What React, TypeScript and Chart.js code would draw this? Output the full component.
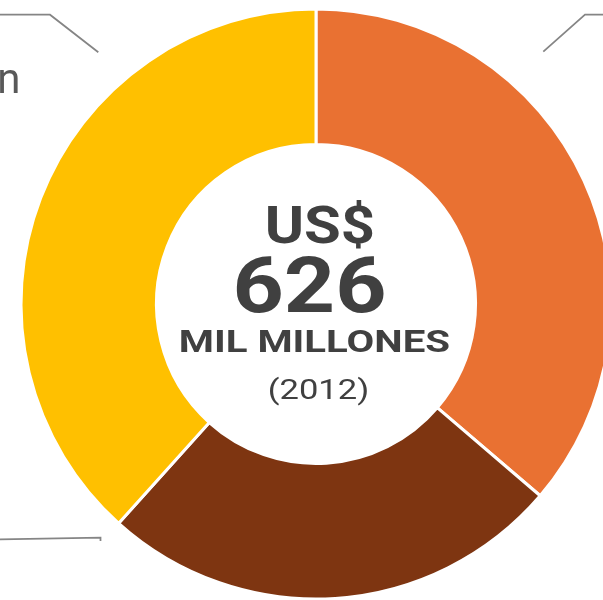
import { useEffect, useRef } from 'react';
import { Chart, registerables } from 'chart.js';

Chart.register(...registerables);

// ---- data ----
const categories = ['Exportaciones', 'Inversión', 'Importación'];
const values = [227, 159, 240]; // US$ mil millones, total 626
const colors = ['#E97132', '#7E3511', '#FFC000'];
const centerLines = ['US$', '626', 'MIL MILLONES', '(2012)'];

const W = 632;
const H = 608;

type Pt = [number, number];
// leader layout per category (pixel geometry, not data)
const leaderLayout: { pts: Pt[]; tx: number; ty: number; align: CanvasTextAlign }[] = [
  { pts: [[543.3, 51.7], [585, 14.7], [660, 14.7]], tx: 612, ty: 93, align: 'left' },
  { pts: [[100.5, 541], [100.5, 537.6], [-30, 539.8]], tx: -20, ty: 575, align: 'right' },
  { pts: [[98.3, 52.3], [50, 14.7], [-30, 14.7]], tx: 20.5, ty: 93.3, align: 'right' },
];

// center text layout: [cx, baseline, font, target ink width, color]
const centerLayout: [number, number, string, number, string][] = [
  [320, 243.3, 'bold 52px Roboto', 106, '#404040'],
  [310, 311.7, 'bold 77px Roboto', 148, '#404040'],
  [314.5, 352.3, 'bold 30.5px Roboto', 269, '#404040'],
  [318, 399.3, '28px Roboto', 98, '#404040'],
];

const overlayPlugin = {
  id: 'overlay',
  afterDraw(chart: any) {
    const ctx: CanvasRenderingContext2D = chart.ctx;
    // center text
    centerLines.forEach((txt, i) => {
      const [cx, by, font, tw, col] = centerLayout[i];
      ctx.save();
      ctx.font = font;
      ctx.fillStyle = col;
      ctx.textBaseline = 'alphabetic';
      ctx.textAlign = 'left';
      const m = ctx.measureText(txt);
      const ink = m.actualBoundingBoxLeft + m.actualBoundingBoxRight;
      const sx = tw / ink;
      ctx.translate(cx, by);
      ctx.scale(sx, 1);
      ctx.fillText(txt, -ink / 2 + m.actualBoundingBoxLeft, 0);
      ctx.restore();
    });
    // leader lines and labels
    categories.forEach((cat, i) => {
      const L = leaderLayout[i];
      ctx.save();
      ctx.strokeStyle = '#858585';
      ctx.lineWidth = 1.75;
      ctx.beginPath();
      L.pts.forEach((p, j) => (j === 0 ? ctx.moveTo(p[0], p[1]) : ctx.lineTo(p[0], p[1])));
      ctx.stroke();
      ctx.font = '42px Roboto';
      ctx.fillStyle = '#595959';
      ctx.textAlign = L.align;
      ctx.textBaseline = 'alphabetic';
      ctx.fillText(cat, L.tx, L.ty);
      ctx.restore();
    });
  },
};

export default function App() {
  const ref = useRef<HTMLCanvasElement>(null);
  useEffect(() => {
    if (!ref.current) return;
    const chart = new Chart(ref.current, {
      type: 'doughnut',
      data: {
        labels: categories,
        datasets: [
          {
            data: values,
            backgroundColor: colors,
            borderColor: '#ffffff',
            borderWidth: 3,
            hoverOffset: 0,
          },
        ],
      },
      options: {
        responsive: false,
        animation: false,
        radius: 295,
        cutout: `${(159.5 / 295) * 100}%`,
        layout: { padding: 0 },
        plugins: {
          legend: { display: false },
          tooltip: { enabled: false },
        },
      } as any,
      plugins: [overlayPlugin],
    });
    const fonts = ['bold 52px Roboto', '42px Roboto', '28px Roboto'];
    Promise.all(fonts.map((f) => (document as any).fonts.load(f)))
      .then(() => chart.draw())
      .catch(() => {});
    return () => chart.destroy();
  }, []);
  return (
    <div
      style={{
        position: 'fixed',
        left: 0,
        top: 0,
        width: 603,
        height: 600,
        overflow: 'hidden',
        background: '#ffffff',
      }}
    >
      <canvas ref={ref} width={W} height={H} style={{ display: 'block', width: W, height: H }} />
    </div>
  );
}
